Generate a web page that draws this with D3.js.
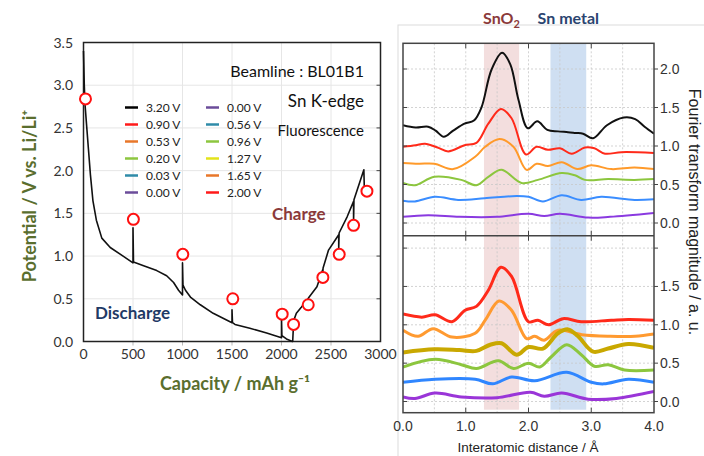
<!DOCTYPE html>
<html>
<head>
<meta charset="utf-8">
<script src="https://cdn.jsdelivr.net/npm/d3@7"></script>
<style>
	body { margin: 0; background: #fff; }
	svg { display: block; }
</style>
</head>
<body>
<svg id="chart" width="704" height="456"></svg>
<script>

// ---- left panel: charge / discharge curve ----
const CAP  = [0, 8, 15, 30, 50, 70, 95, 130, 185, 270, 400, 500, 500, 505, 600, 740, 840, 910, 960, 1000, 1000, 1005, 1030, 1080, 1180, 1310, 1500, 1500, 1505, 1530, 1680, 1850, 2000, 2000, 2004, 2050, 2110, 2113, 2118, 2125, 2150, 2200, 2268, 2268, 2272, 2358, 2416, 2416, 2420, 2475, 2578, 2578, 2582, 2663, 2728, 2728, 2732, 2832, 2836];
const VOLT = [3.40, 3.0, 2.78, 2.55, 2.25, 1.95, 1.65, 1.42, 1.21, 1.10, 1.00, 0.92, 1.33, 0.93, 0.89, 0.83, 0.77, 0.69, 0.60, 0.545, 0.92, 0.66, 0.60, 0.52, 0.43, 0.33, 0.22, 0.37, 0.22, 0.20, 0.155, 0.10, 0.045, 0.27, 0.07, 0.03, 0.0, 0.0, 0.12, 0.25, 0.33, 0.40, 0.50, 0.45, 0.51, 0.64, 0.84, 0.78, 0.86, 1.07, 1.25, 1.09, 1.27, 1.46, 1.64, 1.40, 1.66, 2.01, 1.82];

const MARK_CAP  = [20, 504, 1003, 1508, 2007, 2122, 2270, 2418, 2583, 2728, 2863];
const MARK_VOLT = [2.84, 1.43, 1.02, 0.50, 0.32, 0.20, 0.43, 0.75, 1.02, 1.36, 1.76];

const CAP_TICKS = [0, 500, 1000, 1500, 2000, 2500, 3000];
const VOLT_TICKS = [0, 0.5, 1.0, 1.5, 2.0, 2.5, 3.0, 3.5];

const LEGEND_DISCHARGE = ['3.20 V', '0.90 V', '0.53 V', '0.20 V', '0.03 V', '0.00 V'];
const LEGEND_CHARGE    = ['0.00 V', '0.56 V', '0.96 V', '1.27 V', '1.65 V', '2.00 V'];
const LEGEND_DIS_COLORS = ['#000000', '#ff1a1a', '#e8772a', '#8dc63f', '#2f8ba8', '#6b4c9a'];
const LEGEND_CHG_COLORS = ['#6b4c9a', '#2f8ba8', '#8dc63f', '#e3e31a', '#e8772a', '#ff1a1a'];

// ---- right panel: Fourier transforms, [r, magnitude] ----
const TOP_BLACK  = [[0,1.27],[0.2,1.24],[0.4,1.25],[0.52,1.20],[0.65,1.12],[0.8,1.20],[0.98,1.29],[1.13,1.33],[1.25,1.50],[1.41,1.99],[1.58,2.21],[1.71,2.06],[1.84,1.60],[1.99,1.23],[2.14,1.32],[2.3,1.21],[2.47,1.19],[2.63,1.18],[2.75,1.17],[2.87,1.16],[3.03,1.10],[3.25,1.27],[3.52,1.37],[3.7,1.35],[3.85,1.25],[4.0,1.16]];
const TOP_RED    = [[0,0.99],[0.2,1.01],[0.35,1.03],[0.55,0.98],[0.72,0.93],[0.98,1.01],[1.17,1.04],[1.36,1.29],[1.56,1.48],[1.73,1.36],[1.96,0.89],[2.13,0.99],[2.31,0.95],[2.5,0.97],[2.69,0.90],[2.9,0.98],[3.05,0.97],[3.22,0.90],[3.48,0.92],[4.0,0.91]];
const TOP_ORANGE = [[0,0.78],[0.25,0.77],[0.5,0.77],[0.8,0.70],[1.15,0.86],[1.31,0.99],[1.54,1.09],[1.76,0.99],[1.97,0.69],[2.13,0.77],[2.31,0.74],[2.53,0.79],[2.78,0.70],[3.0,0.75],[3.32,0.70],[3.69,0.72],[4.0,0.70]];
const TOP_GREEN  = [[0,0.52],[0.19,0.49],[0.5,0.60],[0.93,0.56],[1.17,0.49],[1.36,0.60],[1.57,0.69],[1.89,0.52],[2.15,0.56],[2.53,0.65],[2.74,0.62],[2.9,0.56],[3.27,0.57],[3.69,0.56],[4.0,0.57]];
const TOP_BLUE   = [[0,0.29],[0.19,0.28],[0.51,0.34],[0.88,0.30],[1.3,0.32],[1.81,0.35],[2.0,0.34],[2.23,0.28],[2.53,0.36],[2.84,0.30],[3.16,0.34],[3.69,0.30],[4.0,0.31]];
const TOP_PURPLE = [[0,0.08],[0.4,0.10],[0.9,0.08],[1.5,0.08],[2.0,0.12],[2.25,0.09],[2.5,0.12],[2.95,0.07],[3.3,0.08],[4.0,0.13]];

const BOT_RED    = [[0,1.14],[0.3,1.10],[0.51,1.13],[0.78,1.04],[0.99,1.19],[1.17,1.24],[1.36,1.45],[1.56,1.75],[1.73,1.63],[2.0,1.04],[2.15,1.06],[2.32,1.00],[2.55,1.08],[2.84,1.04],[3.32,1.06],[3.59,1.07],[4.0,1.06]];
const BOT_ORANGE = [[0,0.93],[0.24,0.85],[0.48,0.95],[0.78,0.84],[1.15,0.89],[1.31,1.06],[1.53,1.31],[1.73,1.19],[1.97,0.82],[2.1,0.85],[2.25,0.80],[2.47,0.93],[2.85,0.87],[3.3,0.85],[3.7,0.85],[4.0,0.88]];
const BOT_OLIVE  = [[0,0.64],[0.5,0.68],[0.9,0.67],[1.17,0.66],[1.39,0.74],[1.57,0.76],[1.81,0.61],[2.0,0.71],[2.23,0.69],[2.47,0.89],[2.63,0.94],[2.79,0.85],[3.03,0.65],[3.27,0.69],[3.59,0.75],[4.0,0.70]];
const BOT_GREEN  = [[0,0.45],[0.51,0.55],[0.93,0.48],[1.17,0.43],[1.52,0.53],[1.76,0.43],[2.0,0.50],[2.18,0.45],[2.36,0.58],[2.61,0.74],[2.84,0.61],[3.05,0.46],[3.27,0.48],[3.53,0.41],[4.0,0.41]];
const BOT_BLUE   = [[0,0.25],[0.51,0.29],[1.15,0.29],[1.43,0.23],[1.73,0.32],[2.1,0.27],[2.61,0.38],[3.0,0.25],[3.2,0.23],[3.59,0.29],[4.0,0.25]];
const BOT_PURPLE = [[0,0.06],[0.19,0.04],[0.51,0.11],[0.93,0.06],[1.5,0.05],[2.03,0.12],[2.25,0.07],[2.53,0.11],[2.95,0.03],[3.4,0.04],[4.0,0.13]];

const SNO2_BAND = [1.29, 1.85];
const SN_BAND   = [2.35, 2.92];
const R_TICKS = [0, 1, 2, 3, 4];
const R_GRID = [0.5, 1, 1.5, 2, 2.5, 3, 3.5];
const TOP_TICKS = [0, 0.5, 1.0, 1.5, 2.0];
const BOT_TICKS = [0, 0.5, 1.0, 1.5];
const BOT_GRID = [0, 0.5, 1.0, 1.5, 2.0];

const svg = d3.select('#chart');
const LFONT = 'Lato, "Noto Sans", sans-serif';
const RFONT = '"Liberation Sans", Arial, sans-serif';

// ================= left panel =================
const xL = d3.scaleLinear().domain([0, 3000]).range([83.5, 380.5]);
const yL = d3.scaleLinear().domain([0, 3.5]).range([341.5, 42.5]);

const left = svg.append('g');

// grid
left.append('g').selectAll('line').data(CAP_TICKS.slice(1, -1)).enter().append('line')
	.attr('x1', d => xL(d)).attr('x2', d => xL(d))
	.attr('y1', yL(0)).attr('y2', yL(3.5))
	.attr('stroke', '#e6e6e6').attr('stroke-width', 1);
left.append('g').selectAll('line').data(VOLT_TICKS.slice(1, -1)).enter().append('line')
	.attr('x1', xL(0)).attr('x2', xL(3000))
	.attr('y1', d => yL(d)).attr('y2', d => yL(d))
	.attr('stroke', '#e6e6e6').attr('stroke-width', 1);

// inward ticks on the right frame, small ticks top / bottom
left.append('g').selectAll('line').data(VOLT_TICKS.slice(1, -1)).enter().append('line')
	.attr('x1', xL(3000) - 4).attr('x2', xL(3000))
	.attr('y1', d => yL(d)).attr('y2', d => yL(d))
	.attr('stroke', '#444').attr('stroke-width', 1);
left.append('g').selectAll('line').data(CAP_TICKS.slice(1, -1)).enter().append('line')
	.attr('x1', d => xL(d)).attr('x2', d => xL(d))
	.attr('y1', yL(0)).attr('y2', yL(0) + 4)
	.attr('stroke', '#bbb').attr('stroke-width', 1);

// frame
left.append('rect')
	.attr('x', xL(0)).attr('y', yL(3.5))
	.attr('width', xL(3000) - xL(0)).attr('height', yL(0) - yL(3.5))
	.attr('fill', 'none').attr('stroke', '#222').attr('stroke-width', 1.5);

// tick labels
left.append('g').selectAll('text').data(VOLT_TICKS).enter().append('text')
	.text(d => d.toFixed(1))
	.attr('x', 73).attr('y', d => yL(d) + 5)
	.attr('text-anchor', 'end')
	.style('font', '14px ' + LFONT).attr('fill', '#333');
left.append('g').selectAll('text').data(CAP_TICKS).enter().append('text')
	.text(d => d)
	.attr('x', d => xL(d)).attr('y', 359)
	.attr('text-anchor', 'middle')
	.style('font', '14px ' + LFONT).attr('fill', '#333');

// axis titles
left.append('text')
	.attr('x', 235).attr('y', 390)
	.attr('text-anchor', 'middle')
	.style('font', 'bold 18px ' + LFONT).attr('fill', '#5a6e2e')
	.text('Capacity / mAh g\u207B\u00B9');
left.append('text')
	.attr('transform', 'translate(36,196) rotate(-90)')
	.attr('text-anchor', 'middle')
	.style('font', 'bold 18px ' + LFONT).attr('fill', '#5a6e2e')
	.text('Potential / V vs. Li/Li\u207A');

// curve
const curveLine = d3.line()
	.x((d, i) => xL(CAP[i]))
	.y(d => yL(d));
left.append('path')
	.datum(VOLT)
	.attr('d', curveLine)
	.attr('fill', 'none').attr('stroke', '#111').attr('stroke-width', 1.6)
	.attr('stroke-linejoin', 'round');

// measurement markers
left.append('g').selectAll('circle').data(MARK_CAP).enter().append('circle')
	.attr('cx', d => xL(d))
	.attr('cy', (d, i) => yL(MARK_VOLT[i]))
	.attr('r', 5.5)
	.attr('fill', '#fff').attr('stroke', '#ff1010').attr('stroke-width', 2);

// legend
const legRow = i => 107.5 + i * 17;
[[LEGEND_DISCHARGE, LEGEND_DIS_COLORS, 125], [LEGEND_CHARGE, LEGEND_CHG_COLORS, 206]].forEach(([labels, colors, x0]) => {
	const g = left.append('g');
	g.selectAll('line').data(labels).enter().append('line')
		.attr('x1', x0).attr('x2', x0 + 13)
		.attr('y1', (d, i) => legRow(i)).attr('y2', (d, i) => legRow(i))
		.attr('stroke', (d, i) => colors[i]).attr('stroke-width', 2.5);
	g.selectAll('text').data(labels).enter().append('text')
		.text(d => d)
		.attr('x', x0 + 21).attr('y', (d, i) => legRow(i) + 4)
		.style('font', '12px ' + LFONT).attr('fill', '#222');
});

// annotations
left.append('text').attr('x', 364).attr('y', 77).attr('text-anchor', 'end')
	.style('font', '16px ' + LFONT).attr('fill', '#111').text('Beamline : BL01B1');
left.append('text').attr('x', 364).attr('y', 107).attr('text-anchor', 'end')
	.style('font', '17px ' + LFONT).attr('fill', '#111').text('Sn K-edge');
left.append('text').attr('x', 364).attr('y', 136).attr('text-anchor', 'end')
	.style('font', '15px ' + LFONT).attr('fill', '#111').text('Fluorescence');
left.append('text').attr('x', 95).attr('y', 319)
	.style('font', 'bold 17px ' + LFONT).attr('fill', '#1f3a66').text('Discharge');
left.append('text').attr('x', 272).attr('y', 220)
	.style('font', 'bold 17px ' + LFONT).attr('fill', '#8b3a3a').text('Charge');

// ================= right panel =================
const right = svg.append('g');
right.append('rect')
	.attr('x', 398).attr('y', 25).attr('width', 320).attr('height', 450)
	.attr('fill', '#fff').attr('stroke', '#dcdcdc').attr('stroke-width', 1);

const xR = d3.scaleLinear().domain([0, 4]).range([403, 654]);
const yTop = d3.scaleLinear().domain([0, 1]).range([223, 146]);
const yBot = d3.scaleLinear().domain([0, 1]).range([401.5, 324.8]);
const TOP_Y0 = 43.3, MID_Y = 235.7, BOT_Y1 = 412.7;

// shaded bands
[[SNO2_BAND, '#f3dede'], [SN_BAND, '#cfdff2']].forEach(([b, c]) => {
	right.append('rect')
		.attr('x', xR(b[0])).attr('y', TOP_Y0)
		.attr('width', xR(b[1]) - xR(b[0])).attr('height', BOT_Y1 - 3 - TOP_Y0)
		.attr('fill', c);
});

// dotted grid
right.append('g').selectAll('line').data(R_GRID).enter().append('line')
	.attr('x1', d => xR(d)).attr('x2', d => xR(d))
	.attr('y1', TOP_Y0).attr('y2', BOT_Y1)
	.attr('stroke', '#c8c8c8').attr('stroke-width', 0.8).attr('stroke-dasharray', '2,2');
right.append('g').selectAll('line').data(TOP_TICKS).enter().append('line')
	.attr('x1', xR(0)).attr('x2', xR(4))
	.attr('y1', d => yTop(d)).attr('y2', d => yTop(d))
	.attr('stroke', '#c8c8c8').attr('stroke-width', 0.8).attr('stroke-dasharray', '2,2');
right.append('g').selectAll('line').data(BOT_GRID).enter().append('line')
	.attr('x1', xR(0)).attr('x2', xR(4))
	.attr('y1', d => yBot(d)).attr('y2', d => yBot(d))
	.attr('stroke', '#c8c8c8').attr('stroke-width', 0.8).attr('stroke-dasharray', '2,2');

// clip paths for each sub-panel
const defs = svg.append('defs');
defs.append('clipPath').attr('id', 'clipTop').append('rect')
	.attr('x', xR(0)).attr('y', TOP_Y0).attr('width', xR(4) - xR(0)).attr('height', MID_Y - TOP_Y0);
defs.append('clipPath').attr('id', 'clipBot').append('rect')
	.attr('x', xR(0)).attr('y', MID_Y).attr('width', xR(4) - xR(0)).attr('height', BOT_Y1 - MID_Y);

const topSeries = [[TOP_BLACK, '#111111'], [TOP_RED, '#ff2a1a'], [TOP_ORANGE, '#ff9a2a'],
	[TOP_GREEN, '#8cc63e'], [TOP_BLUE, '#3a8dff'], [TOP_PURPLE, '#8a3ae0']];
const botSeries = [[BOT_PURPLE, '#9a35d8', 3], [BOT_BLUE, '#2f86ff', 3], [BOT_GREEN, '#8cc63e', 3],
	[BOT_ORANGE, '#ff9a30', 3], [BOT_OLIVE, '#c9a800', 4], [BOT_RED, '#ff2a1a', 3]];

const lineTop = d3.line().x(d => xR(d[0])).y(d => yTop(d[1])).curve(d3.curveCatmullRom.alpha(0.5));
const lineBot = d3.line().x(d => xR(d[0])).y(d => yBot(d[1])).curve(d3.curveCatmullRom.alpha(0.5));

const gTop = right.append('g').attr('clip-path', 'url(#clipTop)');
gTop.selectAll('path').data(topSeries.slice().reverse()).enter().append('path')
	.attr('d', d => lineTop(d[0]))
	.attr('fill', 'none').attr('stroke', d => d[1]).attr('stroke-width', 2);

const gBot = right.append('g').attr('clip-path', 'url(#clipBot)');
gBot.selectAll('path').data(botSeries).enter().append('path')
	.attr('d', d => lineBot(d[0]))
	.attr('fill', 'none').attr('stroke', d => d[1]).attr('stroke-width', d => d[2]);

// frames
right.append('rect')
	.attr('x', xR(0)).attr('y', TOP_Y0).attr('width', xR(4) - xR(0)).attr('height', BOT_Y1 - TOP_Y0)
	.attr('fill', 'none').attr('stroke', '#444').attr('stroke-width', 1.5);
right.append('line')
	.attr('x1', xR(0)).attr('x2', xR(4)).attr('y1', MID_Y).attr('y2', MID_Y)
	.attr('stroke', '#444').attr('stroke-width', 1.5);

// ticks
const tickG = right.append('g').attr('stroke', '#444').attr('stroke-width', 1);
R_TICKS.slice(1, -1).forEach(r => {
	[[TOP_Y0, 5], [MID_Y, -5], [MID_Y, 5], [BOT_Y1, -5]].forEach(([y, l]) => {
		tickG.append('line').attr('x1', xR(r)).attr('x2', xR(r)).attr('y1', y).attr('y2', y + l);
	});
});
TOP_TICKS.forEach(v => {
	tickG.append('line').attr('x1', xR(0)).attr('x2', xR(0) + 4).attr('y1', yTop(v)).attr('y2', yTop(v));
	tickG.append('line').attr('x1', xR(4)).attr('x2', xR(4) + 4).attr('y1', yTop(v)).attr('y2', yTop(v));
});
BOT_GRID.forEach(v => {
	tickG.append('line').attr('x1', xR(0)).attr('x2', xR(0) + 4).attr('y1', yBot(v)).attr('y2', yBot(v));
	tickG.append('line').attr('x1', xR(4)).attr('x2', xR(4) + 4).attr('y1', yBot(v)).attr('y2', yBot(v));
});

// tick labels
right.append('g').selectAll('text').data(TOP_TICKS).enter().append('text')
	.text(d => d.toFixed(1))
	.attr('x', 660).attr('y', d => yTop(d) + 5)
	.style('font', '14px ' + RFONT).attr('fill', '#333');
right.append('g').selectAll('text').data(BOT_TICKS).enter().append('text')
	.text(d => d.toFixed(1))
	.attr('x', 660).attr('y', d => yBot(d) + 5)
	.style('font', '14px ' + RFONT).attr('fill', '#333');
right.append('g').selectAll('text').data(R_TICKS).enter().append('text')
	.text(d => d.toFixed(1))
	.attr('x', d => xR(d)).attr('y', 431)
	.attr('text-anchor', 'middle')
	.style('font', '14px ' + RFONT).attr('fill', '#333');

right.append('text')
	.attr('x', 528).attr('y', 452).attr('text-anchor', 'middle')
	.style('font', '13.5px ' + RFONT).attr('fill', '#222')
	.text('Interatomic distance / \u00C5');
right.append('text')
	.attr('transform', 'translate(689,212) rotate(90)')
	.attr('text-anchor', 'middle')
	.style('font', '16px ' + RFONT).attr('fill', '#222')
	.text('Fourier transform magnitude / a. u.');

// band labels
const sno2 = right.append('text')
	.attr('x', xR((SNO2_BAND[0] + SNO2_BAND[1]) / 2)).attr('y', 24).attr('text-anchor', 'middle')
	.style('font', 'bold 16px ' + LFONT).attr('fill', '#8b3a3a');
sno2.append('tspan').text('SnO');
sno2.append('tspan').text('2').attr('dy', 4).style('font-size', '11px');
right.append('text')
	.attr('x', xR((SN_BAND[0] + SN_BAND[1]) / 2) + 0).attr('y', 24).attr('text-anchor', 'middle')
	.style('font', 'bold 16px ' + LFONT).attr('fill', '#2a4470')
	.text('Sn metal');

</script>
</body>
</html>
